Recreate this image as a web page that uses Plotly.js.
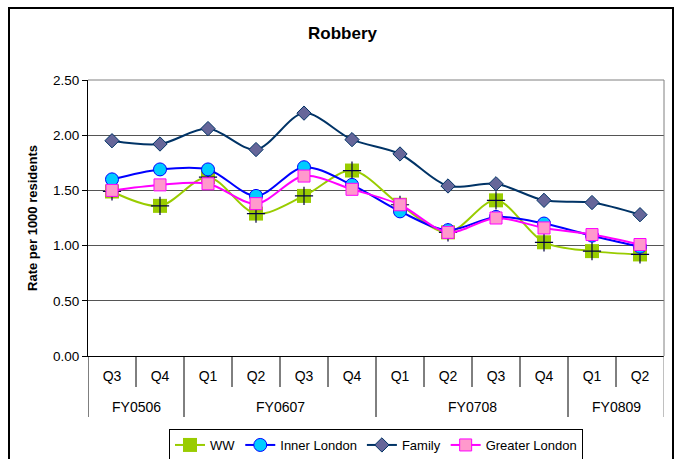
<!DOCTYPE html>
<html>
<head>
<meta charset="utf-8">
<script src="https://cdn.plot.ly/plotly-3.0.1.min.js"></script>
<style>html,body{margin:0;padding:0;background:#fff;}#chart{width:678px;height:459px;}</style>
</head>
<body>
<div id="chart"></div>
<script>
// ---- data ----
var fiscalYears = ['FY0506','FY0506','FY0607','FY0607','FY0607','FY0607','FY0708','FY0708','FY0708','FY0708','FY0809','FY0809'];
var quarters    = ['Q3','Q4','Q1','Q2','Q3','Q4','Q1','Q2','Q3','Q4','Q1','Q2'];
var ww           = [1.49, 1.36, 1.62, 1.29, 1.45, 1.68, 1.37, 1.12, 1.41, 1.03, 0.95, 0.92];
var innerLondon  = [1.60, 1.69, 1.69, 1.45, 1.71, 1.55, 1.31, 1.14, 1.26, 1.20, 1.09, 0.99];
var family       = [1.95, 1.92, 2.06, 1.87, 2.20, 1.96, 1.83, 1.54, 1.56, 1.41, 1.39, 1.28];
var greaterLondon= [1.50, 1.55, 1.56, 1.38, 1.63, 1.51, 1.37, 1.12, 1.25, 1.16, 1.10, 1.01];
var yTicks = [0, 0.5, 1, 1.5, 2, 2.5];

// ---- layout geometry (pixels) ----
var W = 678, H = 459;
var L = 88, R = 664, T = 80, B = 356;
var pw = R - L, ph = B - T;
function px(x){ return (x - L) / pw; }
function py(y){ return (B - y) / ph; }

var n = quarters.length;
var xIdx = quarters.map(function(q, i){ return i; });
var FONT = 'Liberation Sans, Arial, sans-serif';

var traces = [
  {name:'WW', x:xIdx, y:ww, type:'scatter', mode:'lines+markers',
   line:{color:'#99cc00', width:2, shape:'spline', smoothing:0.9},
   marker:{symbol:'square', size:14, color:'#99cc00', line:{width:0}}},
  {name:'WW', x:xIdx, y:ww, type:'scatter', mode:'markers', showlegend:false, hoverinfo:'skip',
   marker:{symbol:'cross-thin-open', size:13, color:'#000040', line:{color:'#000040', width:1.2}}},
  {name:'Inner London', x:xIdx, y:innerLondon, type:'scatter', mode:'lines+markers',
   line:{color:'#0000ff', width:2, shape:'spline', smoothing:0.9},
   marker:{symbol:'circle', size:13, color:'#00ccff', line:{color:'#0000ff', width:1}}},
  {name:'Family', x:xIdx, y:family, type:'scatter', mode:'lines+markers',
   line:{color:'#003366', width:2, shape:'spline', smoothing:0.9},
   marker:{symbol:'diamond', size:11, color:'#666699', line:{color:'#003366', width:1}}},
  {name:'Greater London', x:xIdx, y:greaterLondon, type:'scatter', mode:'lines+markers',
   line:{color:'#ff00ff', width:2, shape:'spline', smoothing:0.9},
   marker:{symbol:'square', size:12, color:'#ff99cc', line:{color:'#ff00ff', width:1}}}
];

var shapes = [];
var annotations = [];
// chart border
shapes.push({type:'rect', xref:'paper', yref:'paper', x0:px(9), x1:px(673), y0:py(470), y1:py(8),
  line:{color:'#000', width:2}, fillcolor:'rgba(0,0,0,0)', layer:'below'});
// plot area border (top, right)
shapes.push({type:'line', xref:'paper', yref:'paper', x0:0, x1:1, y0:1, y1:1, line:{color:'#808080', width:1}});
shapes.push({type:'line', xref:'paper', yref:'paper', x0:1, x1:1, y0:0, y1:1, line:{color:'#808080', width:1}});
// quarter boundary tick lines
for (var i = 1; i < n; i++) {
  if (fiscalYears[i] !== fiscalYears[i-1]) continue;
  shapes.push({type:'line', xref:'x', yref:'paper', x0:i-0.5, x1:i-0.5, y0:0, y1:py(387),
    line:{color:'#000', width:1}});
}
// fiscal-year group dividers and labels
var start = 0;
for (var j = 1; j <= n; j++) {
  if (j === n || fiscalYears[j] !== fiscalYears[start]) {
    annotations.push({xref:'x', yref:'paper', x:(start + j - 1)/2, y:py(407), text:fiscalYears[start],
      showarrow:false, xanchor:'center', yanchor:'middle', font:{family:FONT, size:14, color:'#000'}});
    start = j;
  }
}
for (var k = 0; k <= n; k++) {
  if (k === 0 || k === n || fiscalYears[k] !== fiscalYears[k-1]) {
    shapes.push({type:'line', xref:'x', yref:'paper', x0:k-0.5, x1:k-0.5, y0:0, y1:py(417),
      line:{color: k === n ? '#808080' : '#000', width:1}});
  }
}

var layout = {
  width:W, height:H,
  margin:{l:L, r:W-R, t:T, b:H-B, pad:0, autoexpand:false},
  paper_bgcolor:'#fff', plot_bgcolor:'#fff',
  font:{family:FONT, size:14, color:'#000'},
  title:{text:'<b>Robbery</b>', font:{family:FONT, size:17, color:'#000'},
    xref:'paper', x:px(342.5), xanchor:'center', yref:'container', y:1-33/H, yanchor:'middle'},
  showlegend:true,
  legend:{orientation:'h', x:px(169), xanchor:'left', y:py(429), yanchor:'top',
    bordercolor:'#000', borderwidth:1, bgcolor:'#fff', font:{family:FONT, size:13, color:'#000'},
    itemwidth:30, tracegroupgap:0},
  xaxis:{range:[-0.5, n-0.5], automargin:false, showline:true, linecolor:'#000', linewidth:1,
    tickvals:xIdx, ticktext:quarters,
    ticks:'outside', tickcolor:'rgba(0,0,0,0)', ticklen:7,
    tickfont:{family:FONT, size:14, color:'#000'}, showgrid:false, zeroline:false},
  yaxis:{range:[0,2.5], automargin:false, tickvals:yTicks, tickformat:'.2f', showline:true, linecolor:'#000', linewidth:1,
    ticks:'outside', ticklen:5, tickcolor:'#000', showgrid:true, gridcolor:'#555', gridwidth:1,
    zeroline:false, tickfont:{family:FONT, size:13.5, color:'#000'},
    title:{text:'<b>Rate per 1000 residents</b>', font:{family:FONT, size:13, color:'#000'}, standoff:12}},
  shapes:shapes,
  annotations:annotations
};

Plotly.newPlot('chart', traces, layout, {displayModeBar:false, staticPlot:true});
</script>
</body>
</html>
